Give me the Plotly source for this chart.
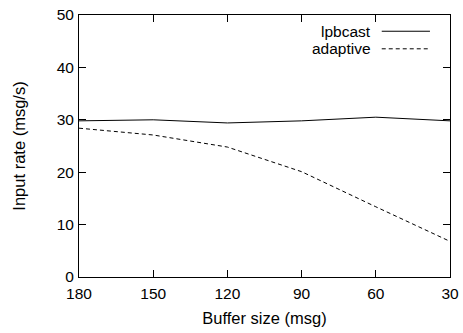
import plotly.graph_objects as go

buffer_size = [180, 150, 120, 90, 60, 30]
lpbcast = [29.8, 30.0, 29.4, 29.8, 30.5, 29.8]
adaptive = [28.4, 27.1, 24.8, 20.1, 13.4, 6.8]
x_ticks = [180, 150, 120, 90, 60, 30]
y_ticks = [0, 10, 20, 30, 40, 50]

FONT = "Liberation Sans, Arial, sans-serif"
FS_TICK = 15.5
FS_TXT = 16.5
FS_LEG = 15.5

fig = go.Figure()
fig.add_trace(go.Scatter(x=buffer_size, y=lpbcast, mode="lines", name="lpbcast",
                         line=dict(color="black", width=1), showlegend=False))
fig.add_trace(go.Scatter(x=buffer_size, y=adaptive, mode="lines", name="adaptive",
                         line=dict(color="black", width=1, dash="4px,3px"), showlegend=False))

axis_common = dict(showline=True, linecolor="black", linewidth=1, mirror="allticks",
                   ticks="inside", ticklen=7, tickwidth=1, tickcolor="black",
                   showgrid=False, zeroline=False, automargin=False,
                   tickfont=dict(family=FONT, size=FS_TICK, color="black"))

fig.update_xaxes(range=[180, 30], tickvals=x_ticks, ticklabelstandoff=2,
                 title=dict(text="Buffer size (msg)", font=dict(family=FONT, size=FS_TXT, color="black"), standoff=11),
                 **axis_common)
fig.update_yaxes(range=[0, 50], tickvals=y_ticks, ticklabelstandoff=1,
                 title=dict(text="Input rate (msg/s)", font=dict(family=FONT, size=FS_TXT, color="black"), standoff=26),
                 **axis_common)

# legend (text then sample line, gnuplot style)
names = ["lpbcast", "adaptive"]
dashes = ["solid", "4px,3px"]
ys = [0.938, 0.871]
for n, d, yy in zip(names, dashes, ys):
    fig.add_annotation(xref="paper", yref="paper", x=0.79, y=yy, text=n, showarrow=False,
                       xanchor="right", yanchor="middle", borderpad=0,
                       font=dict(family=FONT, size=FS_LEG, color="black"))
    fig.add_shape(type="line", xref="paper", yref="paper", x0=0.816, x1=0.946, y0=yy, y1=yy,
                  line=dict(color="black", width=1, dash=d))

fig.update_layout(width=463, height=333, margin=dict(l=79, r=13, t=15, b=56),
                  plot_bgcolor="white", paper_bgcolor="white",
                  font=dict(family=FONT, size=FS_TXT, color="black"))

fig.write_html("out.html")
